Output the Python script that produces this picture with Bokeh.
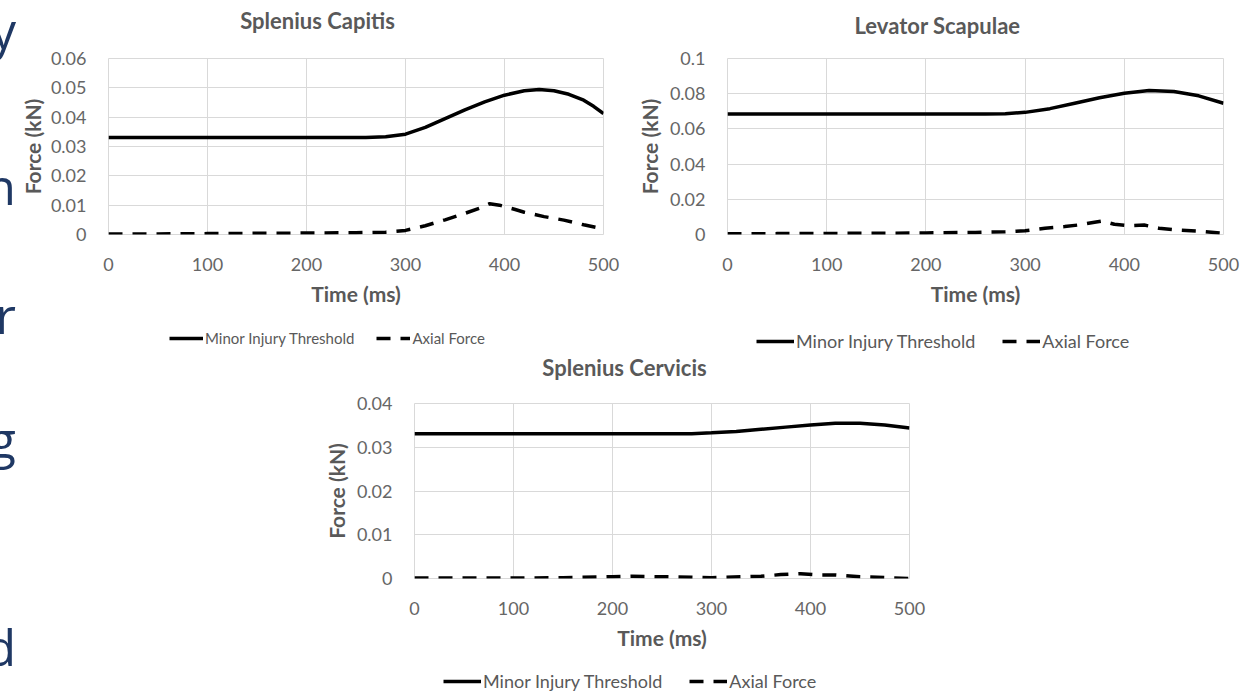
from bokeh.plotting import figure
from bokeh.models import (FixedTicker, Legend, LegendItem, CustomJSTickFormatter, Div, Spacer,
                          Label)
from bokeh.layouts import column, row
from bokeh.embed import file_html
from bokeh.resources import INLINE

# ---------------- data ----------------
titles = ["Splenius Capitis", "Levator Scapulae", "Splenius Cervicis"]
series_names = ["Minor Injury Threshold", "Axial Force"]
x_axis_label = "Time (ms)"
y_axis_label = "Force (kN)"
side_letters = ["y", "n", "r", "g", "d"]

time_ticks = [0, 100, 200, 300, 400, 500]
time_labels = ["0", "100", "200", "300", "400", "500"]

# Splenius Capitis
sc_thr_t = [0, 100, 200, 260, 280, 300, 320, 340, 360, 380, 400, 420, 435, 450, 465, 480, 490, 500]
sc_thr_v = [0.0331, 0.0331, 0.0331, 0.0331, 0.0333, 0.0342, 0.0365, 0.0395, 0.0425, 0.0452,
            0.0475, 0.0490, 0.0494, 0.0490, 0.0478, 0.0458, 0.0437, 0.0412]
sc_ax_t = [0, 50, 100, 150, 200, 250, 280, 300, 320, 340, 360, 375, 385, 395, 410, 420, 440,
           460, 480, 500]
sc_ax_v = [0.0002, 0.0002, 0.0003, 0.0004, 0.0005, 0.0006, 0.0008, 0.0014, 0.0030, 0.0050,
           0.0072, 0.0090, 0.0105, 0.0100, 0.0086, 0.0076, 0.0061, 0.0049, 0.0033, 0.0019]
sc_y_ticks = [0, 0.01, 0.02, 0.03, 0.04, 0.05, 0.06]
sc_y_labels = ["0", "0.01", "0.02", "0.03", "0.04", "0.05", "0.06"]

# Levator Scapulae
ls_thr_t = [0, 100, 200, 260, 280, 300, 325, 350, 375, 400, 425, 450, 475, 500]
ls_thr_v = [0.0684, 0.0684, 0.0684, 0.0684, 0.0686, 0.0694, 0.0715, 0.0746, 0.0777, 0.0803,
            0.0818, 0.0812, 0.0788, 0.0746]
ls_ax_t = [0, 50, 100, 150, 200, 250, 280, 300, 320, 340, 355, 370, 378, 390, 405, 420, 435,
           455, 480, 500]
ls_ax_v = [0.0004, 0.0005, 0.0006, 0.0007, 0.0009, 0.0012, 0.0015, 0.0021, 0.0036, 0.0045,
           0.0055, 0.0070, 0.0077, 0.0058, 0.0050, 0.0054, 0.0036, 0.0025, 0.0017, 0.0007]
ls_y_ticks = [0, 0.02, 0.04, 0.06, 0.08, 0.1]
ls_y_labels = ["0", "0.02", "0.04", "0.06", "0.08", "0.1"]

# Splenius Cervicis
cv_thr_t = [0, 100, 200, 280, 300, 325, 350, 375, 400, 425, 450, 475, 500]
cv_thr_v = [0.0331, 0.0331, 0.0331, 0.0331, 0.0333, 0.0336, 0.0341, 0.0346, 0.0351, 0.0355,
            0.0355, 0.0351, 0.0344]
cv_ax_t = [0, 50, 100, 150, 200, 220, 250, 280, 300, 330, 350, 370, 390, 410, 425, 450, 475, 500]
cv_ax_v = [0.0001, 0.0001, 0.0001, 0.0002, 0.0004, 0.0005, 0.0004, 0.0003, 0.0002, 0.0004,
           0.0005, 0.0009, 0.0011, 0.0008, 0.0008, 0.0004, 0.0002, 0.0000]
cv_y_ticks = [0, 0.01, 0.02, 0.03, 0.04]
cv_y_labels = ["0", "0.01", "0.02", "0.03", "0.04"]

# ---------------- style ----------------
FONT = "Lato"
TEXT = "#595959"
TICK = "#666666"
GRID = "#d9d9d9"
NAVY = "#1F3864"
DASH = "14 10"


def label_formatter(vals, labs):
    return CustomJSTickFormatter(args=dict(vals=vals, labs=labs), code="""
        for (let i = 0; i < vals.length; i++) {
            if (Math.abs(vals[i] - tick) < 1e-9) { return labs[i]; }
        }
        return String(tick);
    """)


def blank_fig(width, height, left, right):
    f = figure(width=width, height=height, x_range=(0, 1), y_range=(0, 1),
               x_axis_location=None, y_axis_location=None,
               output_backend="svg", toolbar_location=None,
               min_border_left=left, min_border_right=right,
               min_border_top=0, min_border_bottom=0)
    f.grid.visible = False
    f.outline_line_color = None
    f.background_fill_color = "white"
    f.border_fill_color = "white"
    return f


def make_title(text, width, height, left, right, xy):
    tf = blank_fig(width, height, left, right)
    tf.add_layout(Label(x=xy[0], y=xy[1], x_units="screen", y_units="screen", text=text,
                        text_align="center", text_baseline="middle", text_font=FONT,
                        text_font_size="22px", text_font_style="bold", text_color=TEXT))
    return tf


def make_chart(thr_t, thr_v, ax_t, ax_v, y_ticks, y_labels, width, height, borders,
               ylabel_standoff):
    left, right, top, bottom = borders
    p = figure(width=width, height=height, x_range=(0, 500), y_range=(0, y_ticks[-1]),
               output_backend="svg", toolbar_location=None,
               min_border_left=left, min_border_right=right,
               min_border_top=top, min_border_bottom=bottom)
    p.background_fill_color = "white"
    p.border_fill_color = "white"
    p.outline_line_color = GRID
    p.outline_line_width = 1

    p.xaxis.ticker = FixedTicker(ticks=time_ticks)
    p.xaxis.formatter = label_formatter(time_ticks, time_labels)
    p.yaxis.ticker = FixedTicker(ticks=y_ticks)
    p.yaxis.formatter = label_formatter(y_ticks, y_labels)
    p.xgrid.ticker = FixedTicker(ticks=time_ticks)
    p.ygrid.ticker = FixedTicker(ticks=y_ticks)
    p.grid.grid_line_color = GRID
    p.grid.grid_line_width = 1

    for ax in (p.xaxis, p.yaxis):
        ax.axis_line_color = None
        ax.major_tick_line_color = None
        ax.minor_tick_line_color = None
        ax.major_tick_out = 0
        ax.major_tick_in = 0
        ax.minor_tick_out = 0
        ax.minor_tick_in = 0
        ax.major_label_text_font = FONT
        ax.major_label_text_font_size = "18px"
        ax.major_label_text_color = TICK
        ax.axis_label_text_font = FONT
        ax.axis_label_text_font_size = "21px"
        ax.axis_label_text_font_style = "bold"
        ax.axis_label_text_color = TEXT
    p.xaxis.major_label_standoff = 23
    p.yaxis.major_label_standoff = 22
    p.xaxis.axis_label = x_axis_label
    p.yaxis.axis_label = y_axis_label
    p.xaxis.axis_label_standoff = 7
    p.yaxis.axis_label_standoff = ylabel_standoff

    p.line(thr_t, thr_v, line_color="black", line_width=3.5)
    p.line(ax_t, ax_v, line_color="black", line_width=3.5, line_dash=DASH)
    return p


def make_legend(width, height, left, right, loc, font, spacing, glyph_w):
    lf = blank_fig(width, height, left, right)
    # sample lines lie outside the visible range; they only provide the legend glyph styles
    r1 = lf.line([-2, -1], [-2, -1], line_color="black", line_width=3.5)
    r2 = lf.line([-2, -1], [-2, -1], line_color="black", line_width=3.5, line_dash=DASH)
    leg = Legend(items=[LegendItem(label=series_names[0], renderers=[r1]),
                        LegendItem(label=series_names[1], renderers=[r2])],
                 location=loc, orientation="horizontal",
                 border_line_color=None, background_fill_alpha=0,
                 padding=0, margin=0, spacing=spacing,
                 glyph_width=glyph_w, glyph_height=16, label_standoff=2, label_height=16,
                 label_text_font=FONT, label_text_font_size=font,
                 label_text_color=TEXT)
    lf.add_layout(leg)
    return lf


# ---- top-left chart (canvas starts at x=16) ----
t1 = make_title(titles[0], 604, 40, 92, 17, (209, 20))
p1 = make_chart(sc_thr_t, sc_thr_v, sc_ax_t, sc_ax_v, sc_y_ticks, sc_y_labels,
                604, 280, (92, 17, 18, 86), 3)
l1 = make_legend(604, 32, 92, 17, (61, 5), "15px", 22, 34)

# ---- top-right chart ----
t2 = make_title(titles[1], 636, 40, 107, 33, (210, 15))
p2 = make_chart(ls_thr_t, ls_thr_v, ls_ax_t, ls_ax_v, ls_y_ticks, ls_y_labels,
                636, 280, (107, 33, 18, 86), 5)
l2 = make_legend(636, 32, 107, 33, (29, 0), "18px", 27, 38)

# ---- bottom chart ----
t3 = make_title(titles[2], 660, 40, 114, 51, (210, 25))
p3 = make_chart(cv_thr_t, cv_thr_v, cv_ax_t, cv_ax_v, cv_y_ticks, cv_y_labels,
                660, 268, (114, 51, 11, 82), 5)
l3 = make_legend(660, 32, 114, 51, (29, 0), "18px", 27, 38)

# fragments of slide text cut by the left edge of the picture
letter_tops = [5, 161, 290, 414, 622]
spans = "".join(
    f'<span style="position:absolute;right:0px;top:{t}px;">{c}</span>'
    for c, t in zip(side_letters, letter_tops))
strip = Div(text=(
    '<div style="position:relative;width:16px;height:692px;overflow:hidden;'
    f"font-family:'Open Sans';font-size:50px;line-height:1;color:{NAVY};\">"
    + spans + "</div>"), width=16, height=692, margin=0)

layout = row(strip,
             column(row(column(t1, p1, l1), column(t2, p2, l2)),
                    row(Spacer(width=284, height=340), column(t3, p3, l3))))

open("out.html", "w").write(file_html(layout, INLINE))
